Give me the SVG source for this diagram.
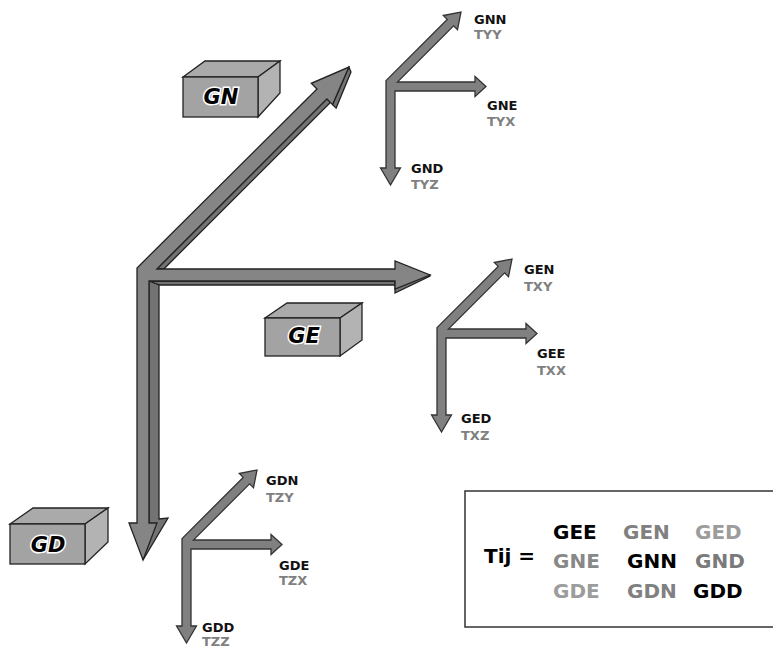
<svg xmlns="http://www.w3.org/2000/svg" xmlns:xlink="http://www.w3.org/1999/xlink" width="773" height="649" viewBox="0 0 773 649">
<style>
.front{fill:#858585;stroke:#222;stroke-width:1.3;stroke-linejoin:miter}
.side{fill:#737373;stroke:#222;stroke-width:1.3}
.tri{fill:#808080;stroke:#333;stroke-width:1.3}
.bf{fill:#a3a3a3;stroke:#222;stroke-width:1.3}
.bt{fill:#aaaaaa;stroke:#222;stroke-width:1.3}
.br{fill:#b3b3b3;stroke:#222;stroke-width:1.3}
.bl{font-family:"DejaVu Sans",Verdana,sans-serif;font-weight:bold;font-style:italic;font-size:21px;fill:#000;stroke:#fff;stroke-width:3;paint-order:stroke;text-anchor:middle}
.l1{font-family:"DejaVu Sans",Verdana,sans-serif;font-weight:bold;font-size:13px;fill:#111}
.l2{font-family:"DejaVu Sans",Verdana,sans-serif;font-weight:bold;font-size:13px;fill:#808080}
.t{font-family:"DejaVu Sans",Verdana,sans-serif;font-weight:bold;font-size:20px}
</style>
<defs>
<path id="triad" class="tri" d="M0,-1.4 L61.2,-62.6 L57.3,-66.5 L75,-70 L71.5,-52.3 L67.6,-56.2 L11.4,0 L89,0 L89,-5.5 L100,4.5 L89,14.5 L89,9 L9,9 L9,86 L14.5,86 L4.5,103 L-5.5,86 L0,86 Z"/>
</defs>

<g id="connectors">
  <path class="side" d="M149,281 L395,281 L395,285 L159,285 Z"/>
  <path class="side" d="M395,284 L395,293 L430,276 L430,275 Z"/>
  <path class="side" d="M149,281 L159,285 L159,519 L168,518 L143,560 L149,523 Z"/>
  <path class="side" d="M156.8,269 L326.9,98.9 L330.4,102.4 L163.8,269 Z"/>
  <path class="side" d="M332.6,104.6 L348.9,67.1 L351,72 L336.1,108.1 Z"/>
  <path class="front" d="M137,523 L137,268 L317,89 L311.3,83.3 L348.9,67.1 L332.6,104.6 L326.9,98.9 L156.8,269 L395,269 L395,261 L430,275 L395,289 L395,281 L149,281 L149,523 L157,523 L143,560 L129,523 Z"/>
  <use xlink:href="#triad" transform="translate(386,82)"/>
  <use xlink:href="#triad" transform="translate(437,329)"/>
  <use xlink:href="#triad" transform="translate(182,540)"/>
</g>

<g id="GN">
  <polygon class="bt" points="183,77 205,61 280,61 258,77"/>
  <polygon class="br" points="258,77 280,61 280,93 258,117"/>
  <rect class="bf" x="183" y="77" width="75" height="40"/>
  <text class="bl" x="221" y="104">GN</text>
</g>
<g id="GE">
  <polygon class="bt" points="265,318 287,303 362,303 340,318"/>
  <polygon class="br" points="340,318 362,303 362,340 340,356"/>
  <rect class="bf" x="265" y="318" width="75" height="38"/>
  <text class="bl" x="304" y="343">GE</text>
</g>
<g id="GD">
  <polygon class="bt" points="10,524 33,508 108,508 85,524"/>
  <polygon class="br" points="85,524 108,508 108,542 85,564"/>
  <rect class="bf" x="10" y="524" width="75" height="40"/>
  <text class="bl" x="48" y="552">GD</text>
</g>

<g id="labels">
  <text class="l1" x="474" y="24">GNN</text><text class="l2" x="474" y="39">TYY</text>
  <text class="l1" x="487" y="110">GNE</text><text class="l2" x="487" y="126">TYX</text>
  <text class="l1" x="411" y="173">GND</text><text class="l2" x="411" y="189">TYZ</text>
  <text class="l1" x="524" y="274">GEN</text><text class="l2" x="524" y="291">TXY</text>
  <text class="l1" x="537" y="358">GEE</text><text class="l2" x="537" y="375">TXX</text>
  <text class="l1" x="461" y="423">GED</text><text class="l2" x="461" y="440">TXZ</text>
  <text class="l1" x="266" y="485">GDN</text><text class="l2" x="266" y="502">TZY</text>
  <text class="l1" x="279" y="570">GDE</text><text class="l2" x="279" y="585">TZX</text>
  <text class="l1" x="202" y="632">GDD</text><text class="l2" x="202" y="646">TZZ</text>
</g>

<g id="tensor">
  <rect x="465" y="491" width="320" height="136" fill="#fff" stroke="#333" stroke-width="1.5"/>
  <text class="t" x="484" y="563" fill="#000">Tij =</text>
  <text class="t" x="553" y="539" fill="#000">GEE</text>
  <text class="t" x="623" y="539" fill="#808080">GEN</text>
  <text class="t" x="695" y="539" fill="#9c9c9c">GED</text>
  <text class="t" x="553" y="568" fill="#888">GNE</text>
  <text class="t" x="627" y="568" fill="#000">GNN</text>
  <text class="t" x="695" y="568" fill="#7a7a7a">GND</text>
  <text class="t" x="553" y="598" fill="#9c9c9c">GDE</text>
  <text class="t" x="627" y="598" fill="#808080">GDN</text>
  <text class="t" x="693" y="598" fill="#000">GDD</text>
</g>
</svg>
